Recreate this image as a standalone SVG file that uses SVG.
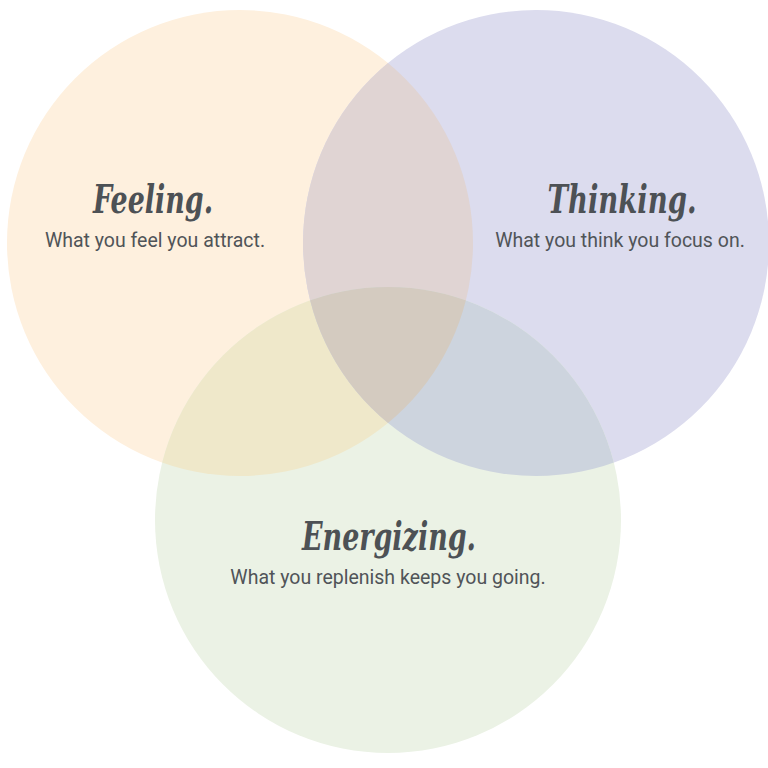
<svg xmlns="http://www.w3.org/2000/svg" width="768" height="768" viewBox="0 0 768 768">
  <defs>
    <clipPath id="clipF"><circle cx="240" cy="243" r="233"/></clipPath>
    <clipPath id="clipT"><circle cx="536" cy="243" r="233"/></clipPath>
  </defs>
  <style>
    .title { font-family: "DejaVu Serif", "Liberation Serif", serif; font-style: italic; font-weight: bold; font-size: 40px; fill: #4d5155; text-anchor: middle; }
    .sub { font-family: Roboto, "Liberation Sans", sans-serif; font-size: 19.5px; fill: #505458; text-anchor: middle; }
  </style>
  <rect width="768" height="768" fill="#ffffff"/>
  <g id="circles">
    <circle id="feeling-circle" cx="240" cy="243" r="233" fill="#FEF0DE"/>
    <circle id="thinking-circle" cx="536" cy="243" r="233" fill="#DCDCEE"/>
    <circle id="energizing-circle" cx="388" cy="520" r="233" fill="#EBF2E5"/>
    <circle cx="536" cy="243" r="233" fill="#E0D4D3" clip-path="url(#clipF)"/>
    <circle cx="388" cy="520" r="233" fill="#EFE8CA" clip-path="url(#clipF)"/>
    <circle cx="388" cy="520" r="233" fill="#CDD4DE" clip-path="url(#clipT)"/>
    <g clip-path="url(#clipF)">
      <circle cx="388" cy="520" r="233" fill="#D4CBC0" clip-path="url(#clipT)"/>
    </g>
  </g>
  <g id="feeling">
    <text class="title" x="153" y="213" textLength="120" lengthAdjust="spacingAndGlyphs">Feeling.</text>
    <text class="sub" x="155" y="247">What you feel you attract.</text>
  </g>
  <g id="thinking">
    <text class="title" x="622" y="213" textLength="149" lengthAdjust="spacingAndGlyphs">Thinking.</text>
    <text class="sub" x="620" y="247">What you think you focus on.</text>
  </g>
  <g id="energizing">
    <text class="title" x="389" y="550" textLength="174" lengthAdjust="spacingAndGlyphs">Energizing.</text>
    <text class="sub" x="388" y="584">What you replenish keeps you going.</text>
  </g>
  <g id="connectors"/>
</svg>
